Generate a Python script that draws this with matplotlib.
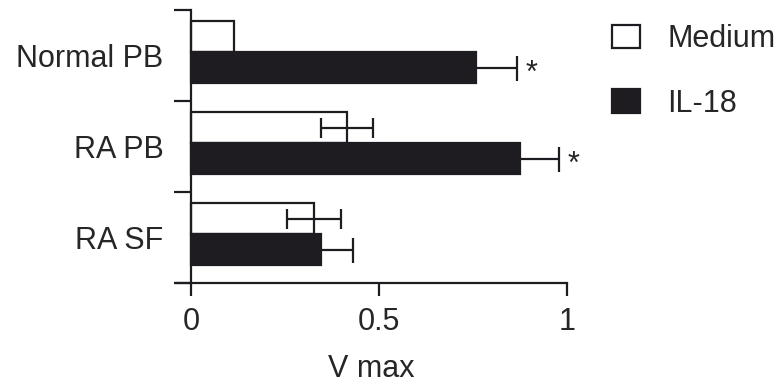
import matplotlib
matplotlib.use('Agg')
import matplotlib.pyplot as plt
from matplotlib.patches import Patch

plt.rcParams['font.family'] = ['Liberation Sans', 'DejaVu Sans']

# V max per cell source, mean and SEM
groups = ['Normal PB', 'RA PB', 'RA SF']
medium = [0.115, 0.415, 0.327]
medium_err = [0.0, 0.07, 0.072]
il18 = [0.758, 0.875, 0.346]
il18_err = [0.11, 0.104, 0.085]
significant = [True, True, False]
xticks = [0, 0.5, 1]
xticklabels = ['0', '0.5', '1']

ink = '#1e1c20'
txt = '#262626'
fs = 22

fig = plt.figure(figsize=(7.79, 3.84), dpi=100)
ax = fig.add_axes([176 / 779, (384 - 283) / 384, (567 - 176) / 779, 273 / 384])

n = len(groups)
h = 0.34
# group k sits in [n-k-1, n-k]; medium above the split line, IL-18 below
split = [n - k - 0.465 for k in range(n)]
y_med = [s + h / 2 for s in split]
y_il = [s - h / 2 for s in split]

ax.barh(split, medium, height=h, align='edge', color='white',
        edgecolor=ink, linewidth=1.6, zorder=2)
ax.barh(split, il18, height=-h, align='edge', color=ink,
        edgecolor=ink, linewidth=1.6, zorder=2)

for k in range(n):
    if medium_err[k] > 0:
        ax.errorbar(medium[k], y_med[k], xerr=medium_err[k], fmt='none',
                    ecolor=ink, elinewidth=1.6, capsize=7, capthick=1.6, zorder=3)
    ax.errorbar(il18[k], y_il[k], xerr=il18_err[k], fmt='none',
                ecolor=ink, elinewidth=1.6, capsize=9, capthick=1.6, zorder=3)
    if significant[k]:
        ax.annotate('*', xy=(il18[k] + il18_err[k], y_il[k]),
                    xytext=(8, -6), textcoords='offset pixels',
                    ha='left', va='center', fontsize=fs, color=txt)

ax.set_xlim(-0.04, 1.0)
ax.set_ylim(0, n)
for side in ['top', 'right']:
    ax.spines[side].set_visible(False)
ax.spines['left'].set_position(('data', 0))
for side in ['left', 'bottom']:
    ax.spines[side].set_linewidth(1.6)
    ax.spines[side].set_color(ink)

ax.set_xticks(xticks, xticklabels)
ax.tick_params(axis='x', length=9.5, width=1.6, color=ink, pad=8,
               labelsize=fs, labelcolor=txt)
ax.set_yticks(range(n + 1), [''] * (n + 1))
ax.tick_params(axis='y', which='major', length=12, width=1.6, color=ink)
ax.set_yticks([n - k - 0.5 for k in range(n)], groups, minor=True)
ax.tick_params(axis='y', which='minor', length=0, pad=20,
               labelsize=fs, labelcolor=txt)
ax.set_xlabel('V max', fontsize=fs, color=txt, labelpad=12)

handles = [Patch(facecolor='white', edgecolor=ink, linewidth=1.6, label='Medium'),
           Patch(facecolor=ink, edgecolor=ink, linewidth=1.6, label='IL-18')]
fig.legend(handles=handles, loc='upper left', bbox_to_anchor=(612 / 779, 1 - 24 / 384),
           frameon=False, fontsize=fs, labelcolor=txt, borderpad=0, borderaxespad=0,
           handlelength=0.9, handleheight=0.8, handletextpad=0.9, labelspacing=1.13)

fig.savefig('out.png', dpi=100, facecolor='white')
